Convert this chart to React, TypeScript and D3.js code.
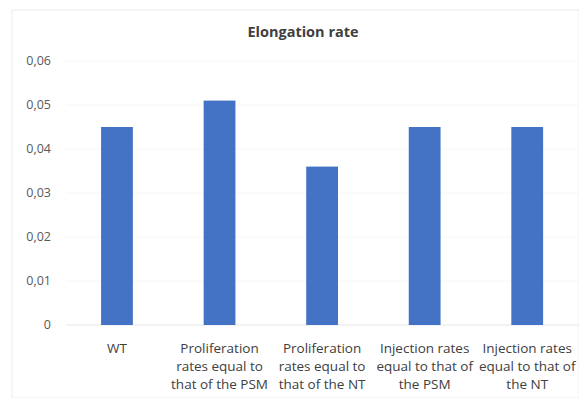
import React from "react";
import * as d3 from "d3";

const categories: string[][] = [
  ["WT"],
  ["Proliferation", "rates equal to", "that of the PSM"],
  ["Proliferation", "rates equal to", "that of the NT"],
  ["Injection rates", "equal to that of", "the PSM"],
  ["Injection rates", "equal to that of", "the NT"],
];
const values: number[] = [0.045, 0.051, 0.036, 0.045, 0.045];
const yTicks: number[] = [0, 0.01, 0.02, 0.03, 0.04, 0.05, 0.06];
const title = "Elongation rate";

const W = 579;
const H = 398;
const FONT = "'Open Sans', sans-serif";

export default function App() {
  const x = d3
    .scaleBand<number>()
    .domain(d3.range(values.length))
    .range([65.7, 578.5])
    .paddingInner(0.69)
    .paddingOuter(0.345);
  const y = d3.scaleLinear().domain([0, 0.06]).range([325, 61]);
  const fmt = (v: number) => (v === 0 ? "0" : d3.format(".2f")(v).replace(".", ","));

  return (
    <svg
      width={W}
      height={H}
      style={{ position: "absolute", left: 0, top: 0, background: "#fff" }}
      fontFamily={FONT}
    >
      <rect x={12} y={10} width={W - 12} height={H - 10} fill="#fff" stroke="#ececec" strokeWidth={1} />
      <text x={303} y={37} textAnchor="middle" fontSize={14.5} fontWeight="bold" fill="#404040">
        {title}
      </text>
      {yTicks.map((t) => (
        <g key={t}>
          {t > 0 && (
            <line x1={66} x2={W} y1={y(t)} y2={y(t)} stroke="#f6f6f6" strokeWidth={1} />
          )}
          <text x={51} y={y(t)} dy="0.35em" textAnchor="end" fontSize={12.5} fill="#595959">
            {fmt(t)}
          </text>
        </g>
      ))}
      <line x1={66} x2={W} y1={y(0)} y2={y(0)} stroke="#e6e6e6" strokeWidth={1} />
      {values.map((v, i) => (
        <rect
          key={i}
          x={x(i)!}
          y={y(v)}
          width={x.bandwidth()}
          height={y(0) - y(v)}
          fill="#4472C4"
        />
      ))}
      {categories.map((lines, i) => (
        <text
          key={i}
          x={x(i)! + x.bandwidth() / 2}
          textAnchor="middle"
          fontSize={13.5}
          fill="#404040"
        >
          {lines.map((l, j) => (
            <tspan key={j} x={x(i)! + x.bandwidth() / 2} y={353 + j * 18}>
              {l}
            </tspan>
          ))}
        </text>
      ))}
    </svg>
  );
}
